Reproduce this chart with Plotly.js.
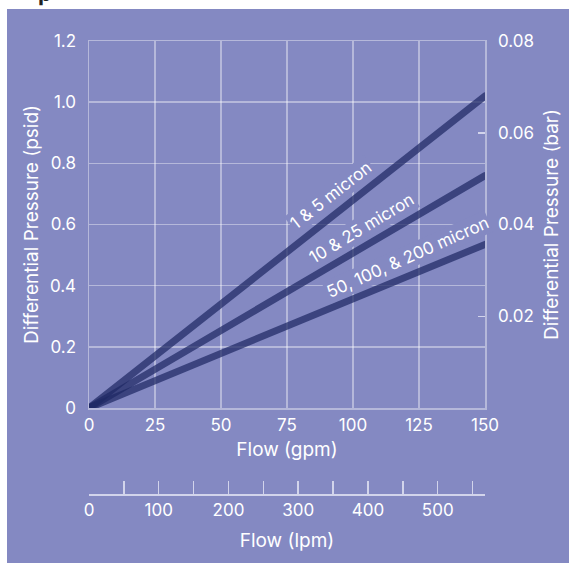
<!DOCTYPE html>
<html>
<head>
<meta charset="utf-8">
<script src="https://cdn.plot.ly/plotly-3.0.1.min.js"></script>
<style>
html,body{margin:0;padding:0;background:#ffffff;width:569px;height:563px;overflow:hidden;}
#chart{position:absolute;left:7px;top:9px;width:562px;height:554px;}
#cut{position:absolute;left:38px;top:0;width:30px;height:6px;overflow:hidden;}
#cut span{position:absolute;left:0;top:-20px;font-family:"Inter",sans-serif;font-size:22px;color:#222;font-weight:bold;}
path.js-line{stroke-linecap:round !important;}
</style>
</head>
<body>
<div id="cut"><span>p</span></div>
<div id="chart"></div>
<script>
// ---- data ----
var flowGpm = [0, 150];
var series1Name = "1 & 5 micron";
var series1Psi = [0, 1.02];
var series2Name = "10 & 25 micron";
var series2Psi = [0, 0.76];
var series3Name = "50, 100, & 200 micron";
var series3Psi = [0, 0.535];

var gpmTicks = [0, 25, 50, 75, 100, 125, 150];
var psiTicks = [0, 0.2, 0.4, 0.6, 0.8, 1.0, 1.2];
var psiTickText = ["0", "0.2", "0.4", "0.6", "0.8", "1.0", "1.2"];
var barTicks = [0.02, 0.04, 0.06, 0.08];
var barTickText = ["0.02", "0.04", "0.06", "0.08"];
var lpmTicks = [0, 50, 100, 150, 200, 250, 300, 350, 400, 450, 500, 550, 567.8];
var lpmTickText = ["0", "", "100", "", "200", "", "300", "", "400", "", "500", "", ""];
var lpmMax = 567.8;
var barMax = 0.08;

// ---- style ----
var BG = "rgb(132,137,194)";
var GRID = "rgba(255,255,255,0.4)";
var LINE = "rgba(31,40,100,0.72)";
var FONT = "Inter, sans-serif";

function lineTrace(y, name) {
  return {x: flowGpm, y: y, name: name, type: "scatter", mode: "lines",
          line: {color: LINE, width: 7}, hoverinfo: "skip", xaxis: "x", yaxis: "y"};
}

var data = [
  lineTrace(series1Psi, series1Name),
  lineTrace(series2Psi, series2Name),
  lineTrace(series3Psi, series3Name),
  {x: [0, lpmMax], y: [0, 0], type: "scatter", mode: "none", xaxis: "x2", yaxis: "y", hoverinfo: "skip", showlegend: false},
  {x: flowGpm, y: [0, barMax], type: "scatter", mode: "none", xaxis: "x", yaxis: "y2", hoverinfo: "skip", showlegend: false}
];

var yDomLow = 0.1916;

var layout = {
  width: 562, height: 554,
  paper_bgcolor: BG, plot_bgcolor: BG,
  showlegend: false,
  margin: {l: 82, r: 84, t: 32, b: 68, pad: 0},
  font: {family: FONT, color: "#ffffff", size: 17},
  xaxis: {
    range: [0, 150], domain: [0, 1], anchor: "y",
    tickmode: "array", tickvals: gpmTicks,
    showgrid: true, gridcolor: GRID, gridwidth: 1.5,
    zeroline: false, showline: true, linecolor: GRID, linewidth: 1.5, mirror: true,
    ticks: "", ticklabelstandoff: 1,
    tickfont: {size: 17, color: "#ffffff"},
    title: {text: "Flow (gpm)", font: {size: 19, color: "#ffffff"}, standoff: 9},
    fixedrange: true
  },
  xaxis2: {
    range: [0, lpmMax], domain: [0, 1], anchor: "free", position: 0, overlaying: "x", side: "bottom",
    tickmode: "array", tickvals: lpmTicks, ticktext: lpmTickText,
    showgrid: false, zeroline: false,
    showline: true, linecolor: "rgba(230,231,245,0.8)", linewidth: 2,
    ticks: "inside", ticklen: 13, tickwidth: 1.5, tickcolor: "rgba(230,231,245,0.8)",
    tickfont: {size: 17, color: "#ffffff"},
    title: {text: "Flow (lpm)", font: {size: 19, color: "#ffffff"}, standoff: 13},
    fixedrange: true
  },
  yaxis: {
    range: [0, 1.2], domain: [yDomLow, 1], anchor: "x",
    tickmode: "array", tickvals: psiTicks, ticktext: psiTickText,
    showgrid: true, gridcolor: GRID, gridwidth: 1.5,
    zeroline: false, showline: true, linecolor: GRID, linewidth: 1.5, mirror: true,
    ticks: "", ticklabelstandoff: 8,
    tickfont: {size: 17, color: "#ffffff"},
    title: {text: "Differential Pressure (psid)", font: {size: 19, color: "#ffffff"}, standoff: 6},
    fixedrange: true
  },
  yaxis2: {
    range: [0, barMax], domain: [yDomLow, 1], anchor: "x", overlaying: "y", side: "right",
    tickmode: "array", tickvals: barTicks, ticktext: barTickText,
    showgrid: false, zeroline: false, showline: false,
    ticks: "inside", ticklen: 7, tickwidth: 1.5, tickcolor: "rgba(230,231,245,0.8)",
    ticklabelstandoff: 12,
    tickfont: {size: 17, color: "#ffffff"},
    title: {text: "Differential Pressure (bar)", font: {size: 19, color: "#ffffff"}, standoff: 11},
    fixedrange: true
  },
  annotations: [
    {x: 91.7, y: 0.696, xref: "x", yref: "y", text: series1Name, showarrow: false, textangle: -38,
     font: {size: 17, color: "#ffffff"}, bgcolor: BG, borderpad: 1},
    {x: 103.4, y: 0.589, xref: "x", yref: "y", text: series2Name, showarrow: false, textangle: -31,
     font: {size: 17, color: "#ffffff"}, bgcolor: BG, borderpad: 1},
    {x: 120.8, y: 0.494, xref: "x", yref: "y", text: series3Name, showarrow: false, textangle: -24,
     font: {size: 17, color: "#ffffff"}, bgcolor: BG, borderpad: 1}
  ]
};

Plotly.newPlot("chart", data, layout, {displayModeBar: false, staticPlot: true});
</script>
</body>
</html>
